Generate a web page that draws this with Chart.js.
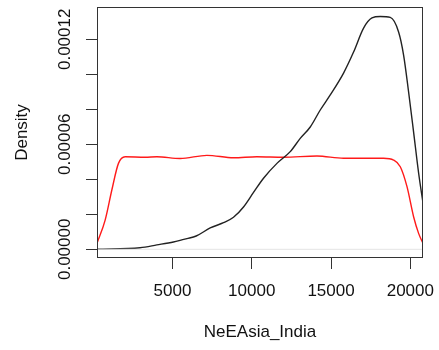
<!DOCTYPE html>
<html>
<head>
<meta charset="utf-8">
<script src="https://cdn.jsdelivr.net/npm/chart.js@4/dist/chart.umd.min.js"></script>
<style>
  html, body { margin: 0; padding: 0; background: #fff; }
  #wrap { width: 439px; height: 350px; }
</style>
</head>
<body>
<div id="wrap"><canvas id="grafico" width="439" height="350"></canvas></div>
<script>
// densidade - curva preta
const pretoX = [240, 2962, 4016, 5063, 5909, 6495, 7379, 8218, 8849, 9480, 10111, 10742, 11588, 12427, 13058, 13689, 14320, 14951, 15790, 16421, 17052, 17582, 18106, 18737, 19261, 19576, 19892, 20207, 20523, 20800]
const pretoY = [0, 0.0000009, 0.0000025, 0.0000042, 0.0000061, 0.0000076, 0.0000122, 0.0000152, 0.0000183, 0.0000242, 0.0000325, 0.0000406, 0.0000491, 0.0000558, 0.0000634, 0.0000699, 0.0000796, 0.0000882, 0.0001007, 0.0001127, 0.0001264, 0.0001322, 0.0001330, 0.0001325, 0.0001242, 0.0001110, 0.0000899, 0.0000670, 0.0000436, 0.0000265]

// densidade - curva vermelha
const vermelhoX = [240, 754, 1176, 1593, 2015, 3277, 4016, 5486, 7171, 8849, 10326, 12004, 14112, 15790, 18314, 18945, 19368, 19791, 20207, 20523, 20800]
const vermelhoY = [0.0000034, 0.0000167, 0.0000339, 0.0000491, 0.0000529, 0.0000526, 0.0000529, 0.0000519, 0.0000537, 0.0000523, 0.0000529, 0.0000526, 0.0000533, 0.0000520, 0.0000520, 0.0000510, 0.0000472, 0.0000358, 0.0000186, 0.0000091, 0.0000034]

const ticksX = [5000, 10000, 15000, 20000]
const ticksY = [0, 0.00002, 0.00004, 0.00006, 0.00008, 0.00010, 0.00012]
const rotulosY = [0, 0.00006, 0.00012]

const tituloX = 'NeEAsia_India'
const tituloY = 'Density'

const fonte = { family: '"Liberation Sans", Arial, sans-serif', size: 17 }

function pontos(xs, ys){
    return xs.map((x, i) => ({ x: x, y: ys[i] }))
}

// caixa do grafico + rotulos verticais do eixo y (estilo R)
const estiloR = {
    id: 'estiloR',
    afterDraw(chart){
        const c = chart.ctx
        const a = chart.chartArea
        const y = chart.scales.y
        c.save()
        c.strokeStyle = '#333'
        c.lineWidth = 1
        c.strokeRect(a.left + 0.5, a.top + 0.5, a.right - a.left - 1, a.bottom - a.top - 1)
        c.fillStyle = '#111'
        c.font = fonte.size + 'px ' + fonte.family
        c.textAlign = 'center'
        c.textBaseline = 'middle'
        rotulosY.forEach(v => {
            c.save()
            c.translate(65.4, y.getPixelForValue(v))
            c.rotate(-Math.PI / 2)
            c.fillText(v.toFixed(5), 0, 0)
            c.restore()
        })
        c.restore()
    }
}

const ctx = document.getElementById('grafico').getContext('2d')

const grafico = new Chart(ctx, {
    type: 'line',
    data: {
        datasets: [{
            label: 'zero',
            data: pontos([240, 20800], [0, 0]),
            borderColor: '#e4e4e4',
            borderWidth: 1,
            pointRadius: 0
        }, {
            label: 'preto',
            data: pontos(pretoX, pretoY),
            borderColor: '#222',
            borderWidth: 1.4,
            pointRadius: 0,
            cubicInterpolationMode: 'monotone'
        }, {
            label: 'vermelho',
            data: pontos(vermelhoX, vermelhoY),
            borderColor: '#ff1a1a',
            borderWidth: 1.4,
            pointRadius: 0,
            cubicInterpolationMode: 'monotone'
        }]
    },
    options: {
        responsive: false,
        animation: false,
        devicePixelRatio: 1,
        layout: { padding: { left: 0, right: 16, top: 7, bottom: 0 } },
        plugins: {
            legend: { display: false },
            tooltip: { enabled: false }
        },
        scales: {
            x: {
                type: 'linear',
                min: 240,
                max: 20800,
                afterBuildTicks: s => { s.ticks = ticksX.map(v => ({ value: v })) },
                afterFit: s => { s.height = 92; s.paddingLeft = 0; s.paddingRight = 0 },
                grid: { drawOnChartArea: false, drawTicks: true, tickLength: 11, color: '#333' },
                border: { display: false },
                ticks: { color: '#111', font: fonte, padding: 12, maxRotation: 0, callback: v => String(v) },
                title: { display: true, text: tituloX, color: '#111', font: fonte, padding: { top: 0, bottom: 7 } }
            },
            y: {
                type: 'linear',
                min: -0.00000497,
                max: 0.00013846,
                afterBuildTicks: s => { s.ticks = ticksY.map(v => ({ value: v })) },
                afterFit: s => { s.width = 97; s.paddingTop = 0; s.paddingBottom = 0 },
                grid: { drawOnChartArea: false, drawTicks: true, tickLength: 11, color: '#333' },
                border: { display: false },
                ticks: { display: false },
                title: { display: true, text: tituloY, color: '#111', font: fonte, padding: { top: 12, bottom: 0 } }
            }
        }
    },
    plugins: [estiloR]
})
</script>
</body>
</html>
